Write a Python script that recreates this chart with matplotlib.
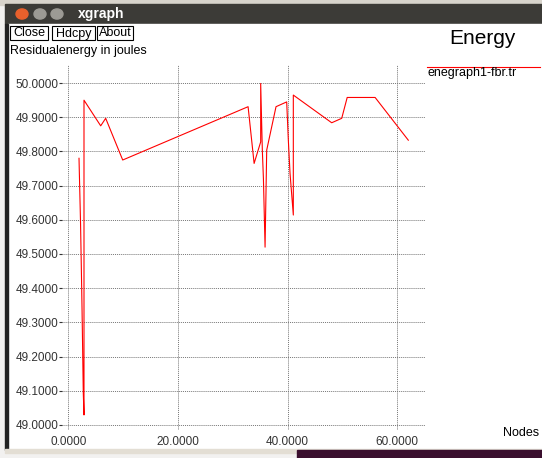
import matplotlib
matplotlib.use('Agg')
import matplotlib.pyplot as plt
from matplotlib.patches import Rectangle, Circle

# data (enegraph1-fbr.tr)
nodes = [1.92, 1.97, 2.20, 2.34, 2.47, 2.59, 2.70, 2.83, 2.83, 5.88, 6.79, 9.90,
         32.8, 33.9, 35.1, 35.1, 35.4, 35.6, 35.9, 36.2, 37.9, 39.85, 40.15, 40.46,
         41.06, 41.06, 48.07, 49.9, 50.9, 56.0, 62.06]
energy = [49.780, 49.745, 49.590, 49.463, 49.341, 49.214, 49.093, 49.029, 49.950,
          49.875, 49.897, 49.775, 49.931, 49.765, 49.828, 49.999, 49.804, 49.720,
          49.520, 49.804, 49.931, 49.945, 49.833, 49.736, 49.614, 49.965, 49.884,
          49.897, 49.958, 49.958, 49.833]
yticks = [49.0, 49.1, 49.2, 49.3, 49.4, 49.5, 49.6, 49.7, 49.8, 49.9, 50.0]
xticks = [0, 20, 40, 60]

W, H = 542, 458
plt.rcParams['font.family'] = ['Liberation Sans', 'DejaVu Sans']
fig = plt.figure(figsize=(W / 100, H / 100), dpi=100)

def px(x, y, w, h):
    # pixel box (top-left origin) -> figure fraction
    return (x / W, 1 - (y + h) / H, w / W, h / H)

def box(x, y, w, h, z=-8, **kw):
    r = px(x, y, w, h)
    fig.patches.append(Rectangle(r[:2], r[2], r[3], transform=fig.transFigure, zorder=z, **kw))

# window chrome
box(0, 0, W, H, z=-10, color='#f2f1f0')
box(0, 0, W, 5, z=-9, color='#d8d4cc')
box(5, 4, W - 5, 20, color='#3c3b37')
box(8, 24, W - 8, 425, color='white')
box(5, 24, 3, 426, color='#222222')
box(5, 449, W - 5, 4, color='#e3ded4')
box(297, 450, W - 297, 8, z=-7, color='#3a0f2e')
for cx, col in [(22, '#e8602c'), (40, '#9c9a94'), (57, '#9c9a94')]:
    fig.patches.append(Circle((cx / W, 1 - 14 / H), 6 / W, transform=fig.transFigure,
                              color=col, zorder=-6))
fig.text(78 / W, 1 - 14 / H, 'xgraph', color='white', fontsize=10, fontweight='bold',
         va='center', ha='left')

# buttons
for x0, x1, lab in [(10, 48, 'Close'), (52, 95, 'Hdcpy'), (97, 133, 'About')]:
    box(x0, 26, x1 - x0, 14, z=1, facecolor='white', edgecolor='black', lw=0.8)
    fig.text((x0 + x1) / 2 / W, 1 - 33.5 / H, lab, fontsize=9, ha='center', va='center')

fig.text(10 / W, 1 - 51 / H, 'Residualenergy in joules', fontsize=9, ha='left', va='center')
fig.text(482 / W, 1 - 39 / H, 'Energy', fontsize=15, ha='center', va='center')
fig.text(503 / W, 1 - 433 / H, 'Nodes', fontsize=9, ha='left', va='center')

# legend
fig.add_artist(plt.Line2D([427 / W, 540 / W], [1 - 67 / H, 1 - 67 / H], color='red', lw=0.8,
                          transform=fig.transFigure))
fig.text(427 / W, 1 - 73 / H, 'enegraph1-fbr.tr', fontsize=9, ha='left', va='center')

# plot area
ax = fig.add_axes(px(62, 65, 363, 365))
ax.patch.set_alpha(0)
ax.plot(nodes, energy, color='red', lw=0.8)
ax.set_xlim(-1.187, 65.11)
ax.set_ylim(48.985, 50.053)
ax.set_xticks(xticks)
ax.set_xticklabels(['%.4f' % v for v in xticks])
ax.set_yticks(yticks)
ax.set_yticklabels(['%.4f' % v for v in yticks])
ax.tick_params(axis='y', length=2, width=0.8, pad=0.5, labelsize=8.5, colors='#333333')
ax.tick_params(axis='x', length=0, pad=4, labelsize=8.5, colors='#333333')
ax.grid(True, color='#777777', lw=0.7, linestyle=(0, (1, 1)))
for s in ax.spines.values():
    s.set_visible(False)

fig.savefig('out.png', dpi=100)
